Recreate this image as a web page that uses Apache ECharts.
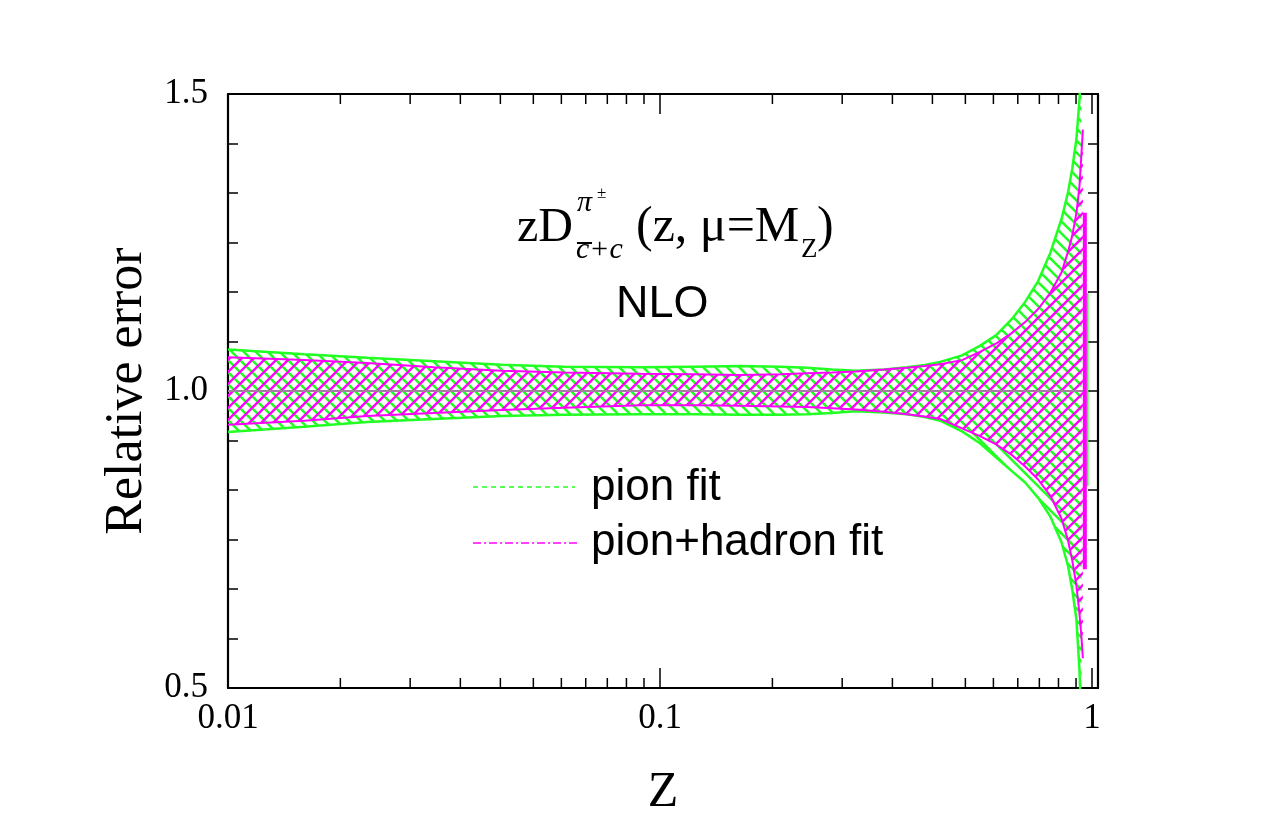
<!DOCTYPE html>
<html>
<head>
<meta charset="utf-8">
<script src="https://cdn.jsdelivr.net/npm/echarts@6/dist/echarts.min.js"></script>
<style>html,body{margin:0;padding:0;background:#fff}#c{width:1275px;height:825px}</style>
</head>
<body>
<div id="c"></div>
<script>
// ---------- data ----------
const pionZ = [0.01, 0.015, 0.021, 0.03, 0.043, 0.06, 0.09, 0.12, 0.153, 0.19, 0.219, 0.25, 0.284, 0.33, 0.373, 0.41, 0.445, 0.5, 0.55, 0.6, 0.65, 0.7, 0.75, 0.8, 0.85, 0.88, 0.9, 0.92, 0.935, 0.945];
const pionUpper = [1.070, 1.062, 1.056, 1.050, 1.044, 1.041, 1.040, 1.041, 1.042, 1.041, 1.039, 1.036, 1.034, 1.036, 1.040, 1.044, 1.049, 1.060, 1.076, 1.094, 1.120, 1.150, 1.185, 1.232, 1.290, 1.335, 1.375, 1.425, 1.490, 1.560];
const pionLower = [0.931, 0.940, 0.948, 0.953, 0.958, 0.960, 0.961, 0.961, 0.960, 0.960, 0.961, 0.963, 0.966, 0.964, 0.961, 0.956, 0.950, 0.932, 0.912, 0.888, 0.866, 0.846, 0.820, 0.789, 0.745, 0.705, 0.665, 0.615, 0.530, 0.440];

const hadZ = [0.01, 0.015, 0.021, 0.03, 0.043, 0.06, 0.09, 0.12, 0.153, 0.19, 0.219, 0.25, 0.284, 0.33, 0.373, 0.41, 0.445, 0.5, 0.55, 0.6, 0.65, 0.7, 0.75, 0.8, 0.85, 0.88, 0.9, 0.92, 0.935, 0.945, 0.952];
const hadUpper = [1.057, 1.052, 1.047, 1.040, 1.034, 1.031, 1.029, 1.028, 1.027, 1.028, 1.030, 1.031, 1.033, 1.036, 1.039, 1.042, 1.045, 1.052, 1.066, 1.080, 1.097, 1.116, 1.138, 1.165, 1.200, 1.235, 1.262, 1.300, 1.345, 1.400, 1.440];
const hadLower = [0.943, 0.950, 0.958, 0.963, 0.968, 0.972, 0.976, 0.976, 0.975, 0.974, 0.973, 0.971, 0.969, 0.965, 0.961, 0.957, 0.953, 0.937, 0.924, 0.910, 0.893, 0.873, 0.851, 0.824, 0.785, 0.748, 0.714, 0.672, 0.625, 0.585, 0.550];

// closing edges of the bands near z = 1
const hadEdge = [[0.962, 0.70], [0.962, 1.30]];
const pionEdge = [[0.976, 0.84], [0.976, 1.165]];
// central value line
const centralLine = [[0.01, 1.0], [0.96, 1.0]];

// axis ticks / labels
const xTickValues = [0.01, 0.1, 1];
const xTickLabels = ['0.01', '0.1', '1'];
const xMinorTicks = [0.0182, 0.0264, 0.0345, 0.0427, 0.0509, 0.0591, 0.0673, 0.0755, 0.0836, 0.0918,
                     0.182, 0.264, 0.345, 0.427, 0.509, 0.591, 0.673, 0.755, 0.836, 0.918];
const yTickValues = [0.5, 1.0, 1.5];
const yTickLabels = ['0.5', '1.0', '1.5'];

const GREEN = '#22ff22';
const MAGENTA = '#ff00ff';
const SERIF = '"Liberation Serif", "Times New Roman", serif';
const SANS = '"Liberation Sans", Arial, sans-serif';

function hatch(color, dir, s, lw) {
  const c = document.createElement('canvas');
  c.width = s; c.height = s;
  const g = c.getContext('2d');
  g.strokeStyle = color; g.lineWidth = lw; g.lineCap = 'square';
  g.beginPath();
  if (dir === '/') {
    g.moveTo(0, s); g.lineTo(s, 0);
    g.moveTo(-s / 2, s / 2); g.lineTo(s / 2, -s / 2);
    g.moveTo(s / 2, 1.5 * s); g.lineTo(1.5 * s, s / 2);
  } else {
    g.moveTo(0, 0); g.lineTo(s, s);
    g.moveTo(-s / 2, s / 2); g.lineTo(s / 2, 1.5 * s);
    g.moveTo(s / 2, -s / 2); g.lineTo(1.5 * s, s / 2);
  }
  g.stroke();
  return c;
}
const greenHatch = hatch(GREEN, '\\', 12, 2.6);
const magentaHatch = hatch(MAGENTA, '/', 12, 2.4);

function bandSeries(zs, up, lo, pattern) {
  return {
    type: 'custom',
    xAxisIndex: 0, yAxisIndex: 0,
    clip: true,
    silent: true,
    data: zs.map((z, i) => [z, up[i], lo[i]]),
    encode: { x: 0, y: [1, 2] },
    renderItem: function (params, api) {
      if (params.dataIndex !== 0) return null;
      const pts = [];
      for (let i = 0; i < zs.length; i++) pts.push(api.coord([zs[i], up[i]]));
      for (let i = zs.length - 1; i >= 0; i--) pts.push(api.coord([zs[i], lo[i]]));
      return {
        type: 'polygon',
        shape: { points: pts },
        style: { fill: { image: pattern, repeat: 'repeat' }, stroke: null }
      };
    }
  };
}

function lineSeries(data, color, width) {
  return {
    type: 'line', xAxisIndex: 0, yAxisIndex: 0,
    data: data, showSymbol: false, symbol: 'none', silent: true, clip: true,
    lineStyle: { color: color, width: width }, z: 3
  };
}

const minorTickSeries = {
  type: 'custom', xAxisIndex: 0, yAxisIndex: 0, silent: true, clip: false, z: 5,
  data: xMinorTicks.map(v => [v]),
  encode: { x: 0 },
  renderItem: function (params, api) {
    const v = api.value(0);
    const b = api.coord([v, 0.5]);
    const t = api.coord([v, 1.5]);
    return {
      type: 'group',
      children: [
        { type: 'line', shape: { x1: b[0], y1: b[1], x2: b[0], y2: b[1] - 10 }, style: { stroke: '#000', lineWidth: 1.5 } },
        { type: 'line', shape: { x1: t[0], y1: t[1], x2: t[0], y2: t[1] + 10 }, style: { stroke: '#000', lineWidth: 1.5 } }
      ]
    };
  }
};

function xLabel(v) {
  const i = xTickValues.findIndex(t => Math.abs(t - v) / t < 1e-6);
  return i >= 0 ? xTickLabels[i] : '';
}
function yLabel(v) {
  const i = yTickValues.findIndex(t => Math.abs(t - v) < 1e-6);
  return i >= 0 ? yTickLabels[i] : '';
}

const axisLine = { show: true, lineStyle: { color: '#000', width: 2.2 } };

const option = {
  animation: false,
  backgroundColor: '#fff',
  grid: { left: 228, right: 177, top: 94, bottom: 137, containLabel: false },
  xAxis: [
    {
      type: 'log', logBase: 10, min: 0.01, max: 1.032, position: 'bottom',
      axisLine: axisLine,
      axisTick: { show: true, inside: true, length: 20, lineStyle: { color: '#000', width: 1.5 } },
      splitLine: { show: false },
      axisLabel: { formatter: xLabel, fontFamily: SERIF, fontSize: 35, color: '#000', margin: 13, showMinLabel: true, showMaxLabel: true },
      name: 'Z', nameLocation: 'middle', nameGap: 80,
      nameTextStyle: { fontFamily: SERIF, fontSize: 50, color: '#000' }
    },
    {
      type: 'log', logBase: 10, min: 0.01, max: 1.032, position: 'top',
      axisLine: axisLine,
      axisTick: { show: true, inside: true, length: 20, lineStyle: { color: '#000', width: 1.5 } },
      splitLine: { show: false },
      axisLabel: { show: false }
    }
  ],
  yAxis: [
    {
      type: 'value', min: 0.5, max: 1.5, interval: 0.5, position: 'left',
      axisLine: axisLine,
      axisTick: { show: true, inside: true, length: 10, lineStyle: { color: '#000', width: 1.5 } },
      minorTick: { show: true, splitNumber: 6, length: 10, lineStyle: { color: '#000', width: 1.5 } },
      splitLine: { show: false }, minorSplitLine: { show: false },
      axisLabel: { formatter: yLabel, fontFamily: SERIF, fontSize: 35, color: '#000', margin: 20 },
      name: 'Relative error', nameLocation: 'middle', nameGap: 68, nameRotate: 90,
      nameTextStyle: { fontFamily: SERIF, fontSize: 52, color: '#000' }
    },
    {
      type: 'value', min: 0.5, max: 1.5, interval: 0.5, position: 'right',
      axisLine: axisLine,
      axisTick: { show: true, inside: true, length: 10, lineStyle: { color: '#000', width: 1.5 } },
      minorTick: { show: true, splitNumber: 6, length: 10, lineStyle: { color: '#000', width: 1.5 } },
      splitLine: { show: false }, minorSplitLine: { show: false },
      axisLabel: { show: false }
    }
  ],
  series: [
    bandSeries(pionZ, pionUpper, pionLower, greenHatch),
    bandSeries(hadZ, hadUpper, hadLower, magentaHatch),
    lineSeries(centralLine, '#a07fa0', 2),
    lineSeries(pionZ.map((z, i) => [z, pionUpper[i]]), GREEN, 2.5),
    lineSeries(pionZ.map((z, i) => [z, pionLower[i]]), GREEN, 2.5),
    lineSeries(pionEdge, GREEN, 2),
    lineSeries(hadZ.map((z, i) => [z, hadUpper[i]]), MAGENTA, 2),
    lineSeries(hadZ.map((z, i) => [z, hadLower[i]]), MAGENTA, 2),
    lineSeries(hadEdge, MAGENTA, 4),
    minorTickSeries
  ],
  graphic: [
    // formula label  zD^{pi±}_{c̄+c} (z, μ=M_Z)
    { type: 'text', x: 517, y: 252, style: { text: 'zD', font: '48px ' + SERIF, fill: '#000', verticalAlign: 'bottom' } },
    { type: 'text', x: 577, y: 218, style: { text: 'π', font: 'italic 30px ' + SERIF, fill: '#000', verticalAlign: 'bottom' } },
    { type: 'text', x: 597, y: 202, style: { text: '±', font: '17px ' + SERIF, fill: '#000', verticalAlign: 'bottom' } },
    { type: 'text', x: 576, y: 265, style: { text: 'c+c', font: 'italic 30px ' + SERIF, fill: '#000', verticalAlign: 'bottom' } },
    { type: 'line', shape: { x1: 577, y1: 243, x2: 592, y2: 243 }, style: { stroke: '#000', lineWidth: 2 } },
    { type: 'text', x: 636, y: 253, style: { text: '(z, μ=M', font: '50px ' + SERIF, fill: '#000', verticalAlign: 'bottom' } },
    { type: 'text', x: 801, y: 263, style: { text: 'Z', font: '27px ' + SERIF, fill: '#000', verticalAlign: 'bottom' } },
    { type: 'text', x: 817, y: 253, style: { text: ')', font: '50px ' + SERIF, fill: '#000', verticalAlign: 'bottom' } },
    { type: 'text', x: 616, y: 305, style: { text: 'NLO', font: '45px ' + SANS, fill: '#000', verticalAlign: 'middle' } },
    // legend
    { type: 'line', shape: { x1: 473, y1: 487, x2: 575, y2: 487 }, style: { stroke: GREEN, lineWidth: 1.5, lineDash: [5, 4] } },
    { type: 'text', x: 591, y: 488, style: { text: 'pion fit', font: '44px ' + SANS, fill: '#000', verticalAlign: 'middle' } },
    { type: 'line', shape: { x1: 473, y1: 543, x2: 577, y2: 543 }, style: { stroke: MAGENTA, lineWidth: 1.5, lineDash: [8, 3, 2, 3] } },
    { type: 'text', x: 591, y: 543, style: { text: 'pion+hadron fit', font: '44px ' + SANS, fill: '#000', verticalAlign: 'middle' } }
  ]
};

const chart = echarts.init(document.getElementById('c'), null, { renderer: 'canvas' });
chart.setOption(option);
</script>
</body>
</html>
